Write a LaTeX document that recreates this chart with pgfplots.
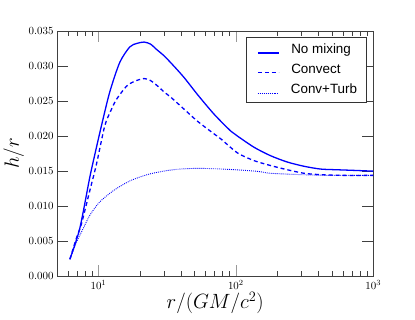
\documentclass[border=0pt]{standalone}
\usepackage{pgfplots}
\pgfplotsset{compat=1.18}
\usepackage{fontspec}
\newfontfamily\legendfont{Liberation Sans}

\tikzset{
    nomix/.style={draw=blue, line width=1.3pt},
    conv/.style={draw=blue, line width=1.3pt, dash pattern=on 4pt off 3pt},
    turb/.style={draw=blue, line width=0.9pt, dash pattern=on 0.9pt off 1.1pt},
}

\begin{document}
\begin{tikzpicture}
\begin{axis}[
    xmode=log, scale only axis,
    width=318pt, height=247pt,
    xmin=5, xmax=1000, ymin=0, ymax=0.035,
    ytick={0,0.005,...,0.035},
    yticklabel style={/pgf/number format/fixed, /pgf/number format/fixed zerofill, /pgf/number format/precision=3},
    scaled y ticks=false,
    tick label style={font=\fontsize{11}{13}\selectfont},
    axis line style={black!75},
    tick style={black!75},
    major x tick style={black!40},
    major tick length=11pt, minor tick length=5pt,
    xlabel={$r/(GM/c^2)$}, ylabel={$h/r$},
    label style={font=\fontsize{20}{24}\selectfont},
    xlabel style={yshift=4pt},
    ylabel style={yshift=-2pt},
    legend style={at={(0.978,0.976)}, anchor=north east, draw=black!80,
        font=\legendfont\fontsize{13.5}{16}\selectfont, row sep=5pt,
        inner xsep=7pt, inner ysep=5pt},
    legend cell align=left,
]
\addplot[nomix, smooth, tension=0.45] coordinates {
(6.2,0.00245) (7.31,0.0068) (8.65,0.0141) (9.5,0.0177) (10.5,0.0214) (12.1,0.0263) (14.3,0.0305) (16.9,0.0327) (19,0.0332) (21.5,0.0334) (24,0.0331) (26.3,0.0324) (30.2,0.0314) (35.7,0.0299) (42.2,0.0283) (52.7,0.0259) (69.6,0.0231) (92,0.0207) (102.8,0.0200) (135.8,0.0184) (179,0.0172) (237,0.0163) (313,0.0157) (413,0.0153) (545,0.0152) (750,0.0151) (1000,0.0150)
};
\addlegendentry{\,\tikz\draw[nomix] (0pt,0pt) -- (21pt,0pt);\hspace{12pt}No mixing}
\addplot[conv, smooth, tension=0.45] coordinates {
(6.2,0.00245) (6.93,0.0055) (7.53,0.0075) (8.65,0.0122) (9.68,0.0160) (11.1,0.0214) (12.3,0.0236) (13.5,0.0252) (16,0.0271) (18.3,0.0278) (21.5,0.0282) (24,0.0279) (27.1,0.0271) (30,0.0263) (33.8,0.0255) (42.2,0.0238) (52.7,0.0221) (69.6,0.0203) (77.8,0.0196) (102.8,0.0176) (135.8,0.0165) (179,0.0158) (237,0.0152) (313,0.0147) (413,0.0145) (600,0.0144) (1000,0.0144)
};
\addlegendentry{\,\tikz\draw[conv] (0pt,0pt) -- (21pt,0pt);\hspace{12pt}Convect}
\addplot[turb, smooth, tension=0.45] coordinates {
(6.2,0.00245) (6.93,0.0049) (7.74,0.0068) (8.65,0.0087) (10.2,0.0106) (12.8,0.0122) (16.9,0.0136) (23.6,0.0146) (34.8,0.0152) (51.3,0.0154) (80,0.0153) (139.6,0.0150) (179,0.0147) (300,0.0145) (500,0.0144) (1000,0.0144)
};
\addlegendentry{\,\tikz\draw[turb] (0pt,0pt) -- (21pt,0pt);\hspace{12pt}Conv+Turb}
\pgfplotsset{legend image code/.code={}}
\end{axis}
\path (current axis.south west) ++(-55pt,-43pt) (current axis.north east) ++(42pt,31pt);
\end{tikzpicture}
\end{document}
